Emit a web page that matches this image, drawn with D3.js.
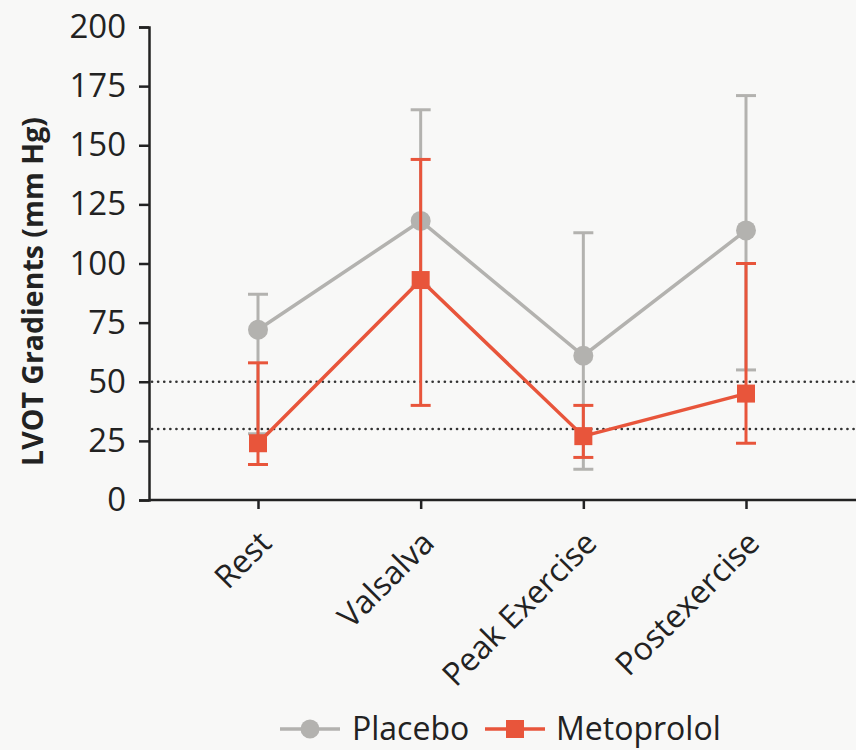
<!DOCTYPE html>
<html>
<head>
<meta charset="utf-8">
<script src="https://cdn.jsdelivr.net/npm/d3@7"></script>
<style>
  body { margin: 0; background: #f8f8f7; }
  svg { display: block; }
  svg text { font-family: "Open Sans", "Noto Sans", sans-serif; }
</style>
</head>
<body>
<div id="graph"></div>
<script>
var categories = ["Rest", "Valsalva", "Peak Exercise", "Postexercise"]
var placeboMean = [72, 118, 61, 114]
var placeboLow = [28, 90, 13, 55]
var placeboHigh = [87, 165, 113, 171]
var metoMean = [24, 93, 27, 45]
var metoLow = [15, 40, 18, 24]
var metoHigh = [58, 144, 40, 100]
var yTicks = [0, 25, 50, 75, 100, 125, 150, 175, 200]
var refLines = [50, 30]

var W = 856, H = 750
var margin = {top: 27, right: 0, bottom: 250, left: 149}
var width = W - margin.left - margin.right,
  height = H - margin.top - margin.bottom

var grey = "#b3b2af", red = "#e8553b"

var svg = d3.select('#graph').append('svg')
  .attr('width', W).attr('height', H)

var g = svg.append('g')
  .attr('transform', 'translate(' + margin.left + ',' + margin.top + ')')

var x = d3.scalePoint()
  .domain(categories)
  .range([109, 597])
var y = d3.scaleLinear()
  .domain([0, 200])
  .range([height, 0])

// dotted reference lines
g.selectAll('.ref')
  .data(refLines)
  .enter().append('line')
  .attr('x1', 3).attr('x2', width)
  .attr('y1', function(d) { return y(d) }).attr('y2', function(d) { return y(d) })
  .attr('stroke', '#333').attr('stroke-width', 2.6)
  .attr('stroke-linecap', 'round')
  .attr('stroke-dasharray', '0.1,6')

// axes
var yAxis = g.append('g')
  .call(d3.axisLeft(y).tickValues(yTicks).tickSize(10).tickPadding(13))
yAxis.attr('font-family', null)
yAxis.select('.domain').attr('stroke', '#222').attr('stroke-width', 2.5)
yAxis.selectAll('.tick line').attr('stroke', '#222').attr('stroke-width', 2.5)
yAxis.selectAll('text').attr('font-size', 33).attr('fill', '#222')

var xAxis = g.append('g')
  .attr('transform', 'translate(0,' + height + ')')
  .call(d3.axisBottom(x).tickSize(9).tickSizeOuter(0))
xAxis.attr('font-family', null)
xAxis.select('.domain').attr('stroke', '#222').attr('stroke-width', 2.5)
  .attr('d', 'M0,0H' + width)
xAxis.selectAll('.tick line').attr('stroke', '#222').attr('stroke-width', 2.5)
xAxis.selectAll('text')
  .attr('font-size', 32).attr('fill', '#222')
  .attr('x', 0).attr('y', 0).attr('dy', '0.35em')
  .attr('transform', 'translate(7,37) rotate(-45)')
  .style('text-anchor', 'end')

g.append('text')
  .attr('transform', 'translate(-106,' + (height / 2 + 28) + ') rotate(-90)')
  .attr('text-anchor', 'middle')
  .attr('font-size', 28.5).attr('font-weight', 'bold').attr('fill', '#222')
  .text('LVOT Gradients (mm Hg)')

function drawSeries(mean, low, high, color, shape) {
  var line = d3.line()
    .x(function(d, i) { return x(categories[i]) })
    .y(function(d) { return y(d) })
  var s = g.append('g')
  categories.forEach(function(c, i) {
    s.append('line')
      .attr('x1', x(c)).attr('x2', x(c))
      .attr('y1', y(low[i])).attr('y2', y(high[i]))
      .attr('stroke', color).attr('stroke-width', 3)
    ;[low[i], high[i]].forEach(function(v) {
      s.append('line')
        .attr('x1', x(c) - 10).attr('x2', x(c) + 10)
        .attr('y1', y(v)).attr('y2', y(v))
        .attr('stroke', color).attr('stroke-width', 3)
    })
  })
  s.append('path')
    .datum(mean)
    .attr('d', line)
    .attr('fill', 'none').attr('stroke', color).attr('stroke-width', 3.5)
  if (shape == 'circle') {
    s.selectAll('circle').data(mean).enter().append('circle')
      .attr('cx', function(d, i) { return x(categories[i]) })
      .attr('cy', function(d) { return y(d) })
      .attr('r', 10).attr('fill', color)
  } else {
    s.selectAll('rect').data(mean).enter().append('rect')
      .attr('x', function(d, i) { return x(categories[i]) - 9 })
      .attr('y', function(d) { return y(d) - 9 })
      .attr('width', 18).attr('height', 18).attr('fill', color)
  }
}

drawSeries(placeboMean, placeboLow, placeboHigh, grey, 'circle')
drawSeries(metoMean, metoLow, metoHigh, red, 'square')

// legend
var legend = svg.append('g').attr('transform', 'translate(0,729)')
var items = [
  {name: 'Placebo', color: grey, shape: 'circle', x: 280, tx: 352},
  {name: 'Metoprolol', color: red, shape: 'square', x: 485, tx: 556}
]
items.forEach(function(d) {
  legend.append('line')
    .attr('x1', d.x).attr('x2', d.x + 60)
    .attr('stroke', d.color).attr('stroke-width', 3.5)
  if (d.shape == 'circle') {
    legend.append('circle').attr('cx', d.x + 30).attr('r', 9.5).attr('fill', d.color)
  } else {
    legend.append('rect').attr('x', d.x + 21).attr('y', -9)
      .attr('width', 18).attr('height', 18).attr('fill', d.color)
  }
  legend.append('text')
    .attr('x', d.tx).attr('y', 11)
    .attr('font-size', 32).attr('fill', '#222')
    .text(d.name)
})
</script>
</body>
</html>
